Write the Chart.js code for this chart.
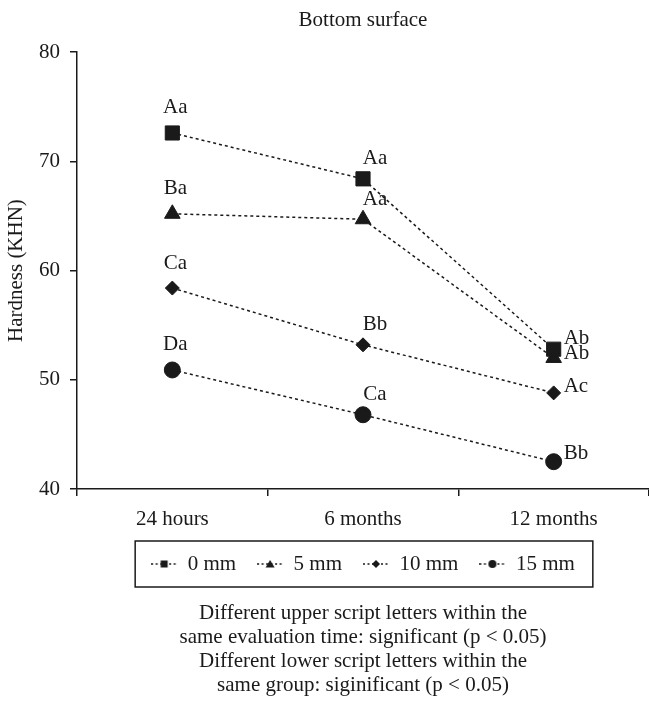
<!DOCTYPE html>
<html>
<head>
<meta charset="utf-8">
<script src="https://cdn.jsdelivr.net/npm/chart.js@4.4.1/dist/chart.umd.min.js"></script>
<style>
  html, body { margin: 0; padding: 0; background: #fff; overflow: hidden; }
  canvas { display: block; }
</style>
</head>
<body>
<canvas id="hardness" width="649" height="702"></canvas>
<script>
const timePoints = ["24 hours", "6 months", "12 months"];
const groupNames = ["0 mm", "5 mm", "10 mm", "15 mm"];

const hardness0mm = [72.6, 68.4, 52.8];
const hardness5mm = [65.2, 64.7, 52.0];
const hardness10mm = [58.4, 53.2, 48.8];
const hardness15mm = [50.9, 46.8, 42.5];

// significance letters printed next to each point
const letters0mm = ["Aa", "Aa", "Ab"];
const letters5mm = ["Ba", "Aa", "Ab"];
const letters10mm = ["Ca", "Bb", "Ac"];
const letters15mm = ["Da", "Ca", "Bb"];

const yTicks = [40, 50, 60, 70, 80];

const footnote = [
  "Different upper script letters within the",
  "same evaluation time: significant (p < 0.05)",
  "Different lower script letters within the",
  "same group: siginificant (p < 0.05)",
];

const INK = "#1a1a1a";
const SERIF = "'Liberation Serif', 'DejaVu Serif', serif";
Chart.defaults.font.family = SERIF;
Chart.defaults.color = INK;

const markerStyles = ["rect", "triangle", "rectRot", "circle"];
const markerRadius = [10, 9, 7, 8];

// little "..marker.." picture for the legend
function legendMark(style) {
  const c = document.createElement("canvas");
  c.width = 26;
  c.height = 12;
  const g = c.getContext("2d");
  g.strokeStyle = INK;
  g.lineWidth = 1.3;
  g.setLineDash([2, 2.5]);
  g.beginPath();
  g.moveTo(0, 6);
  g.lineTo(26, 6);
  g.stroke();
  g.setLineDash([]);
  g.fillStyle = INK;
  g.beginPath();
  if (style === "rect") g.rect(9.5, 2.5, 7, 7);
  else if (style === "triangle") { g.moveTo(13, 2); g.lineTo(17.5, 9.5); g.lineTo(8.5, 9.5); g.closePath(); }
  else if (style === "rectRot") { g.moveTo(13, 2); g.lineTo(17, 6); g.lineTo(13, 10); g.lineTo(9, 6); g.closePath(); }
  else g.arc(13, 6, 4, 0, Math.PI * 2);
  g.fill();
  return c;
}

const letterLabels = {
  id: "letterLabels",
  afterDatasetsDraw(chart, args, opts) {
    const ctx = chart.ctx;
    ctx.save();
    ctx.font = "21px " + SERIF;
    ctx.fillStyle = INK;
    ctx.textBaseline = "middle";
    chart.data.datasets.forEach((ds, di) => {
      const meta = chart.getDatasetMeta(di);
      meta.data.forEach((pt, i) => {
        const txt = ds.letters[i];
        if (i === meta.data.length - 1) {
          ctx.textAlign = "left";
          ctx.fillText(txt, pt.x + opts.sideGap, pt.y + opts.sideShiftY[di]);
        } else {
          ctx.textAlign = "center";
          ctx.fillText(txt, pt.x + opts.aboveShiftX[i], pt.y - opts.aboveGap[i]);
        }
      });
    });
    ctx.restore();
  },
};

// title, legend and footnote are centred on the plot, not the page
const centerOnPlot = {
  id: "centerOnPlot",
  afterLayout(chart) {
    const { left, right } = chart.chartArea;
    chart.boxes.forEach((b) => {
      if (b instanceof Chart.Scale) return;
      b.left = left;
      b.right = right;
      b.width = right - left;
    });
  },
};

const legendFrame = {
  id: "legendFrame",
  afterDraw(chart) {
    const boxes = chart.legend.legendHitBoxes;
    if (!boxes || !boxes.length) return;
    const l = Math.min(...boxes.map((b) => b.left));
    const r = Math.max(...boxes.map((b) => b.left + b.width));
    const mid = boxes[0].top + boxes[0].height / 2;
    const ctx = chart.ctx;
    ctx.save();
    ctx.strokeStyle = INK;
    ctx.lineWidth = 1.5;
    ctx.strokeRect(l - 16, mid - 23, r - l + 34, 46);
    ctx.restore();
  },
};

const seriesValues = [hardness0mm, hardness5mm, hardness10mm, hardness15mm];
const seriesLetters = [letters0mm, letters5mm, letters10mm, letters15mm];

const datasets = groupNames.map((name, i) => ({
  label: name,
  data: seriesValues[i],
  letters: seriesLetters[i],
  borderColor: INK,
  borderWidth: 1.5,
  borderDash: [3, 3],
  fill: false,
  tension: 0,
  pointStyle: markerStyles[i],
  pointRadius: markerRadius[i],
  pointHoverRadius: markerRadius[i],
  pointBackgroundColor: INK,
  pointBorderColor: INK,
  pointBorderWidth: 1,
}));

const legendMarks = markerStyles.map(legendMark);
const font21 = { family: SERIF, size: 21, lineHeight: 1.15 };

new Chart(document.getElementById("hardness"), {
  type: "line",
  data: { labels: timePoints, datasets: datasets },
  plugins: [centerOnPlot, letterLabels, legendFrame],
  options: {
    responsive: false,
    animation: false,
    layout: { padding: 0, autoPadding: false },
    plugins: {
      title: {
        display: true,
        text: "Bottom surface",
        font: { ...font21, weight: "normal" },
        color: INK,
        padding: { top: 8, bottom: 20 },
      },
      subtitle: {
        display: true,
        position: "bottom",
        text: footnote,
        font: { family: SERIF, size: 21, lineHeight: 24 / 21 },
        color: INK,
        padding: { top: 16.5, bottom: 5 },
      },
      legend: {
        position: "bottom",
        labels: {
          usePointStyle: true,
          pointStyleWidth: 26,
          padding: 21,
          font: font21,
          color: INK,
          generateLabels(chart) {
            return chart.data.datasets.map((ds, i) => ({
              text: ds.label,
              pointStyle: legendMarks[i],
              datasetIndex: i,
              fontColor: INK,
              lineWidth: 0,
              hidden: false,
            }));
          },
        },
      },
      tooltip: { enabled: false },
      letterLabels: {
        aboveGap: [25, 20],
        aboveShiftX: [3, 12],
        sideGap: 10,
        sideShiftY: [-11, -4, -6, -8],
      },
    },
    scales: {
      x: {
        offset: true,
        grid: {
          display: true,
          offset: true,
          drawOnChartArea: false,
          tickLength: 7,
          lineWidth: 1.5,
          tickColor: (c) => (c.index === timePoints.length ? "transparent" : INK),
        },
        border: { display: true, color: INK, width: 1.5 },
        ticks: { font: font21, color: INK, padding: 11 },
        afterFit(s) { s.height = 43.5; },
      },
      y: {
        min: 40,
        max: 80,
        afterBuildTicks(s) { s.ticks = yTicks.map((v) => ({ value: v })); },
        grid: {
          drawOnChartArea: false,
          tickLength: 7,
          lineWidth: 1.5,
          tickColor: INK,
        },
        border: { display: true, color: INK, width: 1.5 },
        ticks: { font: font21, color: INK, padding: 10 },
        title: {
          display: true,
          text: "Hardness (KHN)",
          font: font21,
          color: INK,
          padding: { top: 4, bottom: 4 },
        },
        afterFit(s) { s.width = 77; },
      },
    },
  },
});
</script>
</body>
</html>
